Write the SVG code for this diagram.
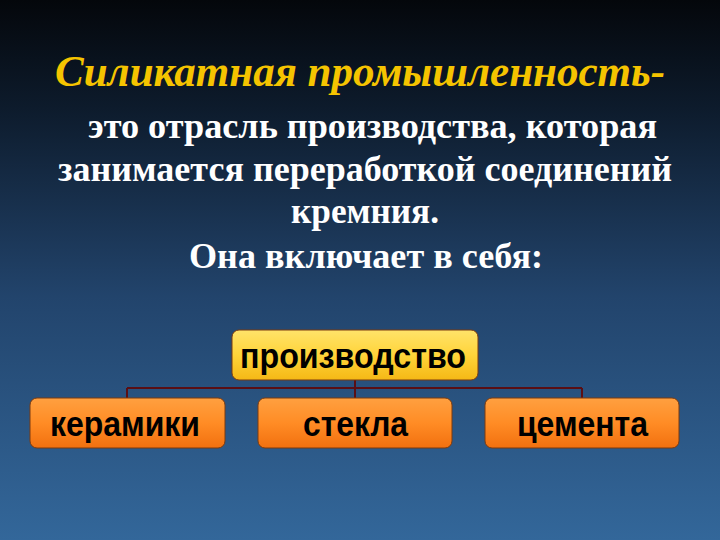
<svg xmlns="http://www.w3.org/2000/svg" width="720" height="540" viewBox="0 0 720 540">
<defs>
<linearGradient id="bg" x1="0" y1="0" x2="0" y2="1">
<stop offset="0" stop-color="#04070b"/>
<stop offset="0.2" stop-color="#0d1b2c"/>
<stop offset="0.55" stop-color="#22446c"/>
<stop offset="1" stop-color="#33679a"/>
</linearGradient>
<linearGradient id="yel" x1="0" y1="0" x2="0" y2="1">
<stop offset="0" stop-color="#ffe36a"/>
<stop offset="0.5" stop-color="#ffd43a"/>
<stop offset="1" stop-color="#f5b815"/>
</linearGradient>
<linearGradient id="org" x1="0" y1="0" x2="0" y2="1">
<stop offset="0" stop-color="#ffa040"/>
<stop offset="0.5" stop-color="#ff8c25"/>
<stop offset="1" stop-color="#f2700f"/>
</linearGradient>
<style>
.t{font-family:"Liberation Serif","Times New Roman",serif;font-weight:bold;fill:#ffffff;font-size:35px}
.h{font-family:"Liberation Serif","Times New Roman",serif;font-weight:bold;font-style:italic;fill:#f5c400;font-size:44px}
.b{font-family:"Liberation Sans",Arial,sans-serif;font-weight:bold;fill:#000000;font-size:35px}
.box{stroke:#7a3a10;stroke-width:1}
.c{stroke:#5a0f14;stroke-width:2;fill:none}
</style>
</defs>
<rect width="720" height="540" fill="url(#bg)"/>
<g id="text">
<text class="h" x="55" y="86" textLength="610" lengthAdjust="spacingAndGlyphs">Силикатная промышленность-</text>
<text class="t" x="88" y="138" textLength="569" lengthAdjust="spacingAndGlyphs">это отрасль производства, которая</text>
<text class="t" x="58" y="181" textLength="614" lengthAdjust="spacingAndGlyphs">занимается переработкой соединений</text>
<text class="t" x="291" y="223" textLength="148" lengthAdjust="spacingAndGlyphs">кремния.</text>
<text class="t" x="189" y="268" textLength="354" lengthAdjust="spacingAndGlyphs">Она включает в себя:</text>
</g>
<g id="connectors">
<path class="c" d="M355,380 V388 M127,388 H582 M127,388 V398 M355,388 V398 M582,388 V398"/>
</g>
<g id="node-root">
<rect class="box" x="232" y="330" width="246" height="50" rx="7" fill="url(#yel)"/>
<text class="b" x="240" y="368" textLength="226" lengthAdjust="spacingAndGlyphs">производство</text>
</g>
<g id="node-ceramics">
<rect class="box" x="30" y="398" width="195" height="50" rx="7" fill="url(#org)"/>
<text class="b" x="50" y="436" textLength="150" lengthAdjust="spacingAndGlyphs">керамики</text>
</g>
<g id="node-glass">
<rect class="box" x="258" y="398" width="194" height="50" rx="7" fill="url(#org)"/>
<text class="b" x="303" y="436" textLength="105" lengthAdjust="spacingAndGlyphs">стекла</text>
</g>
<g id="node-cement">
<rect class="box" x="485" y="398" width="194" height="50" rx="7" fill="url(#org)"/>
<text class="b" x="517" y="436" textLength="131" lengthAdjust="spacingAndGlyphs">цемента</text>
</g>
</svg>
